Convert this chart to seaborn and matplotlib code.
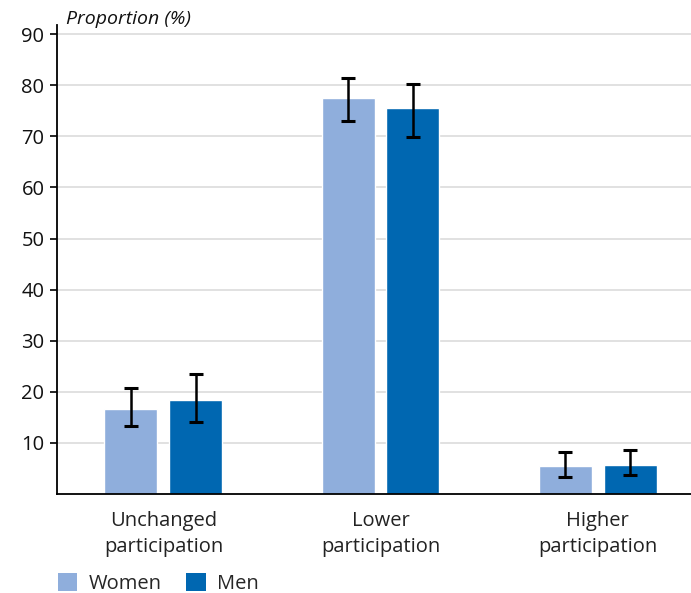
import matplotlib
matplotlib.use("Agg")
import matplotlib.pyplot as plt
import seaborn as sns
import pandas as pd
import numpy as np
from matplotlib.patches import Patch

categories = ["Unchanged\nparticipation", "Lower\nparticipation", "Higher\nparticipation"]
groups = ["Women", "Men"]
women = [16.6, 77.5, 5.5]
men = [18.4, 75.5, 5.7]
women_lo = [13.3, 73.0, 3.3]
women_hi = [20.7, 81.4, 8.2]
men_lo = [14.1, 69.9, 3.7]
men_hi = [23.5, 80.2, 8.6]
yticks = [10, 20, 30, 40, 50, 60, 70, 80, 90]

colors = {"Women": "#8FAEDC", "Men": "#0067B1"}

sns.set_theme(style="white")
plt.rcParams["font.family"] = ["Open Sans", "DejaVu Sans"]

df = pd.DataFrame({
    "category": categories * 2,
    "group": ["Women"] * 3 + ["Men"] * 3,
    "value": women + men,
})

fig = plt.figure(figsize=(6.91, 5.93), dpi=100)
ax = fig.add_axes([57 / 691, 1 - 494 / 593, 1 - 57 / 691, (494 - 25) / 593])

sns.barplot(data=df, x="category", y="value", hue="group", hue_order=groups,
            order=categories, palette=colors, width=0.598, gap=0.184,
            saturation=1, ax=ax, legend=False)

# Confidence intervals over each bar
lo = {"Women": women_lo, "Men": men_lo}
hi = {"Women": women_hi, "Men": men_hi}
vals = {"Women": women, "Men": men}
for container, g in zip(ax.containers, groups):
    xs = [p.get_x() + p.get_width() / 2 for p in container.patches]
    v = np.array(vals[g])
    yerr = np.vstack([v - np.array(lo[g]), np.array(hi[g]) - v])
    ax.errorbar(xs, v, yerr=yerr, fmt="none", ecolor="black",
                elinewidth=1.8, capsize=5, capthick=2.2, zorder=5)

ax.set_xlim(-0.49, 2.43)
ax.set_ylim(0, 91.8)
ax.set_yticks(yticks)
ax.set_yticklabels([str(t) for t in yticks], fontsize=14.5, color="#111111")
ax.yaxis.grid(True, color="#DCDCDC", linewidth=1.2)
ax.set_axisbelow(True)

ax.set_xticks([0, 1, 2])
ax.set_xticklabels(categories, fontsize=14.5, color="#222222", linespacing=1.4)
ax.tick_params(axis="x", length=0, pad=12)
ax.set_xticks([-0.49, 0.515, 1.52], minor=True)
ax.tick_params(axis="x", which="minor", length=13, width=1.2, color="#333333", direction="out")
ax.tick_params(axis="y", length=5, width=1.2, color="black", direction="out", pad=4, left=True)

ax.set_xlabel("")
ax.set_ylabel("")
for s in ["top", "right"]:
    ax.spines[s].set_visible(False)
for s in ["left", "bottom"]:
    ax.spines[s].set_color("black")
    ax.spines[s].set_linewidth(1.3)

fig.text(66 / 691, 1 - 19 / 593, "Proportion (%)", fontsize=14, style="italic",
         va="center", ha="left", color="#111111")

handles = [Patch(facecolor=colors[g], edgecolor="none", label=g) for g in groups]
fig.legend(handles=handles, loc="lower left", bbox_to_anchor=(46 / 691, -0.022),
           ncol=2, frameon=False, fontsize=14.5, handlelength=0.95, handleheight=0.95,
           handletextpad=0.55, columnspacing=1.25, borderaxespad=0.2)

fig.savefig("out.png", dpi=100)
